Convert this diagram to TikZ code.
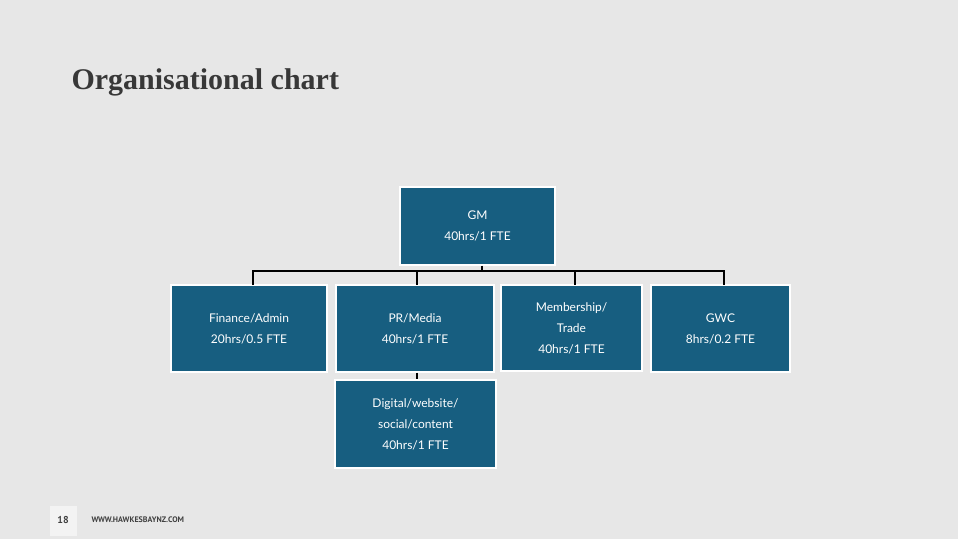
\documentclass[tikz,border=0pt]{standalone}
\usepackage{fontspec}
\setmainfont{Lato}
\newfontfamily\titlefont{Liberation Serif}
\newfontfamily\footfont{PT Sans}
\begin{document}
\begin{tikzpicture}[x=1pt,y=-1pt,
  box/.style={fill=boxblue,draw=white,line width=1.2pt,text=white,align=center,font=\fontsize{12}{21}\selectfont,inner sep=0pt},
  conn/.style={line width=2pt,black}]
\definecolor{boxblue}{HTML}{175E80}
\definecolor{bg}{HTML}{E7E7E7}
\fill[bg] (0,0) rectangle (958,539);
\useasboundingbox (0,0) rectangle (958,539);
\node[anchor=west,text=black!78,font=\titlefont\bfseries\fontsize{30}{34}\selectfont] (title) at (68,82) {Organisational chart};
\fill[white!50!bg] (50,506) rectangle (77,536);
\node[font=\footfont\bfseries\fontsize{10}{12}\selectfont,text=black!75] (pg) at (63,520) {18};
\node[anchor=west,font=\footfont\bfseries\fontsize{8}{10}\selectfont,text=black!75] (url) at (88,520) {WWW.HAWKESBAYNZ.COM};
\node[box,minimum width=155,minimum height=78] (gm) at (477.5,226) {GM\\40hrs/1 FTE};
\node[box,minimum width=156,minimum height=87] (fin) at (249,328.5) {Finance/Admin\\20hrs/0.5 FTE};
\node[box,minimum width=158,minimum height=87] (pr) at (415,328.5) {PR/Media\\40hrs/1 FTE};
\node[box,minimum width=141,minimum height=86] (mem) at (571.5,328) {Membership/\\Trade\\40hrs/1 FTE};
\node[box,minimum width=139,minimum height=87] (gwc) at (720.5,328.5) {GWC\\8hrs/0.2 FTE};
\node[box,minimum width=161,minimum height=88] (dig) at (415.5,424) {Digital/website/\\social/content\\40hrs/1 FTE};
\coordinate (j) at (482,271);
\draw[conn] (gm.south -| j) -- (j);
\draw[conn] (253,285) |- (724,271) -- (724,285);
\draw[conn] (417,271) -- (417,285);
\draw[conn] (575,271) -- (575,285);
\draw[line width=1.2pt] (pr.south -| 417,0) -- (dig.north -| 417,0);
\end{tikzpicture}
\end{document}
